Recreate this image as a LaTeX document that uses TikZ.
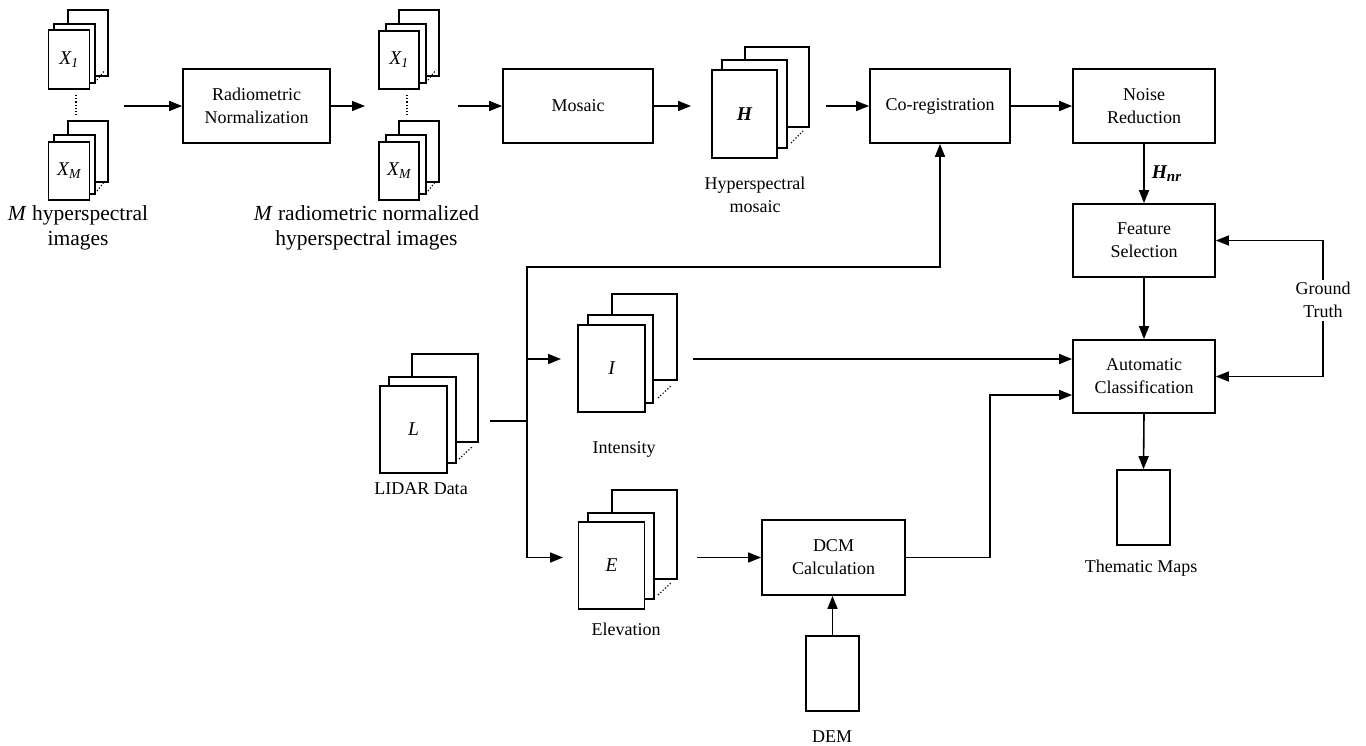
\documentclass[tikz,border=0pt]{standalone}
\usepackage{fontspec}
\setmainfont{Liberation Serif}
\usetikzlibrary{arrows.meta}
\begin{document}
\begin{tikzpicture}[x=1pt,y=-1pt,
  txt/.style={font=\fontsize{18}{23}\selectfont, align=center, inner sep=0pt},
  bigtxt/.style={font=\fontsize{21.5}{25}\selectfont, align=center, inner sep=0pt},
  box/.style={draw, line width=1.8pt, fill=white, inner sep=0pt, font=\fontsize{18}{23}\selectfont, align=center},
  page/.style={draw, line width=1.6pt, fill=white},
  front/.style={draw, line width=1.6pt, fill=white, inner sep=0pt, font=\fontsize{19.5}{23}\selectfont},
  plain/.style={draw, line width=1.6pt, inner sep=0pt},
  dots/.style={line width=1.2pt, dotted},
  arr/.style={line width=1.6pt, -{Triangle[length=13pt,width=10pt]}},
  ln/.style={line width=1.6pt}]
\useasboundingbox (0,0) rectangle (1366,746);

% ---- stack X1 (input)
\draw[page] (68,10) rectangle (108,76);
\draw[page] (54,24) rectangle (95,83);
\node[front, minimum width=41, minimum height=59] (xa1) at (69,59.5) {\itshape X\textsubscript{1}};
\draw[dots] (97,80) -- (105,70);
\draw[dots] (76,95) -- (76,116);
% ---- stack XM (input)
\draw[page] (68,121) rectangle (108,182);
\draw[page] (54,135) rectangle (95,194);
\node[front, minimum width=41, minimum height=58] (xam) at (69,171) {\itshape X\textsubscript{M}};
\draw[dots] (97,191) -- (105,181);
\node[bigtxt] (lblin) at (78,228) {\textit{M} hyperspectral\\images};

% ---- Radiometric normalization
\coordinate (a1s) at (124,106);
\node[box, minimum width=147, minimum height=74] (rad) at (256.5,106) {Radiometric\\Normalization};
\draw[arr] (a1s) -- (rad.west);
\coordinate (a2e) at (365,106);
\draw[arr] (rad.east) -- (a2e);

% ---- stack X1 (normalized)
\draw[page] (399,10) rectangle (439,76);
\draw[page] (386,24) rectangle (426,83);
\node[front, minimum width=40, minimum height=58] (xb1) at (399,60) {\itshape X\textsubscript{1}};
\draw[dots] (428,80) -- (436,70);
\draw[dots] (407,95) -- (407,116);
% ---- stack XM (normalized)
\draw[page] (399,121) rectangle (439,182);
\draw[page] (386,135) rectangle (426,194);
\node[front, minimum width=40, minimum height=58] (xbm) at (399,171) {\itshape X\textsubscript{M}};
\draw[dots] (428,191) -- (436,181);
\node[bigtxt] (lblnorm) at (366.5,228) {\textit{M} radiometric normalized\\hyperspectral images};

% ---- Mosaic
\coordinate (a3s) at (458,106);
\node[box, minimum width=150, minimum height=74] (mos) at (578,106) {Mosaic};
\draw[arr] (a3s) -- (mos.west);
\coordinate (a4e) at (691,106);
\draw[arr] (mos.east) -- (a4e);

% ---- H stack
\draw[page] (745,47) rectangle (809,127);
\draw[page] (722,60) rectangle (787,148);
\node[front, minimum width=65, minimum height=88] (hst) at (744.5,114) {\bfseries\itshape H};
\draw[dots] (791,143) -- (803,131);
\node[txt] (lblh) at (755,194.5) {Hyperspectral\\mosaic};

% ---- Co-registration, Noise reduction
\coordinate (a5s) at (826,106);
\node[box, minimum width=140, minimum height=74] (coreg) at (940,106) {Co-registration};
\draw[arr] (a5s) -- (coreg.west);
\node[box, minimum width=142, minimum height=74] (noise) at (1144,106) {Noise\\Reduction};
\draw[arr] (coreg.east) -- (noise.west);

% ---- Feature selection, classification
\node[box, minimum width=142, minimum height=73] (feat) at (1144,240.5) {Feature\\Selection};
\draw[arr] (noise.south) -- (feat.north)
  node[midway, right=7pt, txt, font=\fontsize{19.5}{23}\selectfont] (hnr) {\bfseries\itshape H\textsubscript{\fontsize{15}{15}\selectfont nr}};
\node[box, minimum width=142, minimum height=73] (auto) at (1144,376.5) {Automatic\\Classification};
\draw[arr] (feat.south) -- (auto.north);
\node[txt] (gt) at (1323,300) {Ground\\Truth};
\draw[arr] ([yshift=2pt]gt.north) |- (feat.east);
\draw[arr] ([yshift=-3pt]gt.south) |- (auto.east);
\node[plain, minimum width=53, minimum height=75] (them) at (1143.5,507.5) {};
\draw[arr] (auto.south) -- (them.north);
\node[txt] (lblthem) at (1141,568) {Thematic Maps};

% ---- LIDAR stack
\draw[page] (412,354) rectangle (478,442);
\draw[page] (389,377) rectangle (456,463);
\node[front, minimum width=67, minimum height=87] (lid) at (413.5,429.5) {\itshape L};
\draw[dots] (459,459) -- (473,446);
\node[txt] (lbllid) at (421,489) {LIDAR Data};

% ---- Intensity stack
\draw[page] (612,294) rectangle (677,380);
\draw[page] (588,315) rectangle (653,403);
\node[front, minimum width=67, minimum height=87] (inten) at (611.5,368.5) {\itshape I};
\draw[dots] (658,398) -- (672,385);
\node[txt] (lblint) at (624,449) {Intensity};

% ---- Elevation stack
\draw[page] (612,490) rectangle (677,579);
\draw[page] (588,513) rectangle (654,599);
\node[front, minimum width=66, minimum height=87] (elev) at (611.5,565.5) {\itshape E};
\draw[dots] (658,595) -- (672,582);
\node[txt] (lblelev) at (626,629) {Elevation};

% ---- LIDAR branching
\coordinate (ls) at (490,421);
\coordinate (j) at (527,421);
\coordinate (jt) at (527,267);
\coordinate (ji) at (527,359);
\coordinate (je) at (527,557.5);
\coordinate (ie) at (561,359);
\coordinate (ee) at (563,557.5);
\draw[ln] (ls) -- (j);
\draw[arr] (j) -- (jt) -| (coreg.south);
\draw[arr] (ji) -- (ie);
\draw[arr] (j) -- (je) -- (ee);

% ---- Intensity to classification
\coordinate (io) at (693,359);
\draw[arr] (io) -- (io -| auto.west);

% ---- DCM
\node[box, minimum width=143, minimum height=75] (dcm) at (833.5,557.5) {DCM\\Calculation};
\coordinate (eo) at (697,557.5);
\draw[arr] (eo) -- (dcm.west);
\coordinate (dk) at (990,395);
\draw[arr] (dcm.east) -| (dk) -- (dk -| auto.west);
\node[plain, minimum width=53, minimum height=75] (dem) at (832.5,673.5) {};
\draw[arr] (dem.north) -- (dem.north |- dcm.south);
\node[txt] (lbldem) at (832,737) {DEM};
\end{tikzpicture}
\end{document}
